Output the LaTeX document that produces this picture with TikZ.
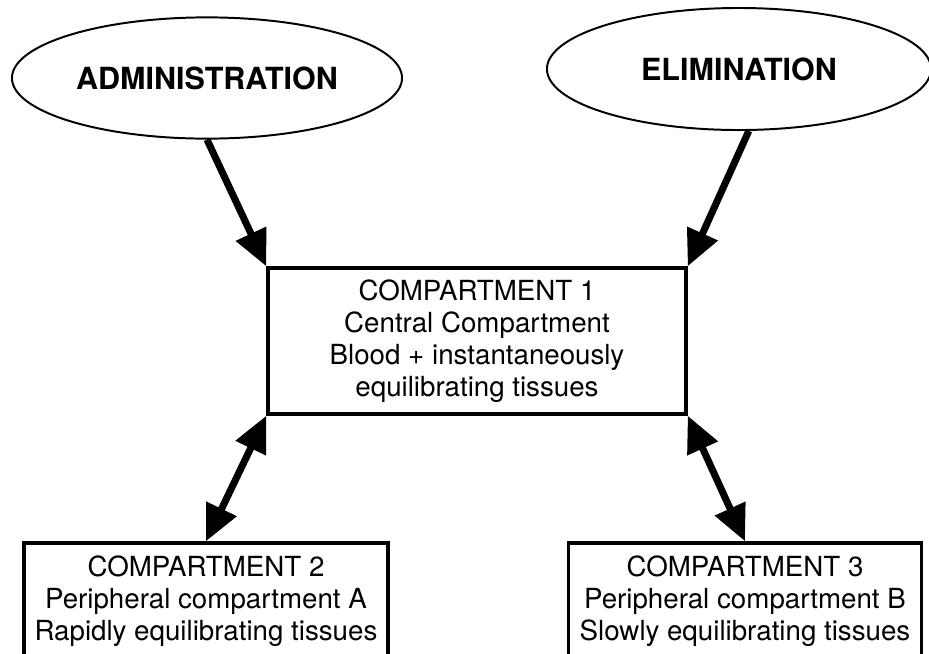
\documentclass[tikz,border=0pt]{standalone}
\usepackage{fontspec}
\setmainfont{TeX Gyre Heros}
\usetikzlibrary{arrows.meta,shapes.geometric}

\begin{document}
\begin{tikzpicture}[
  x=0.025cm, y=-0.025cm,
  oval/.style={draw, ellipse, line width=1.4pt, inner sep=0pt, font=\fontsize{21.7}{25}\selectfont\bfseries},
  comp/.style={draw, line width=2.4pt, align=center, inner sep=0pt, font=\fontsize{19.7}{22.8}\selectfont},
  arrow/.style={line width=5pt, -{Triangle[length=0.9cm, width=0.8cm]}},
  dblarrow/.style={line width=5pt, {Triangle[length=0.9cm, width=0.8cm]}-{Triangle[length=0.9cm, width=0.8cm]}}
]
\useasboundingbox (0,0) rectangle (929,653);
\clip (0,0) rectangle (929,653);

% inputs and outputs of the central compartment
\node[oval, minimum width=9.75cm, minimum height=3.03cm] (admin) at (207,78) {ADMINISTRATION};
\node[oval, minimum width=9.6cm, minimum height=3.05cm] (elim) at (739,69) {ELIMINATION};

% compartments (lower two run off the bottom edge)
\node[comp, minimum width=10.45cm, minimum height=3.65cm] (c1) at (477,341)
  {COMPARTMENT 1\\Central Compartment\\Blood + instantaneously\\equilibrating tissues};
\node[comp, minimum width=9.1cm, minimum height=2.9cm] (c2) at (206,601)
  {COMPARTMENT 2\\Peripheral compartment A\\Rapidly equilibrating tissues};
\node[comp, minimum width=8.83cm, minimum height=2.9cm] (c3) at (745,601)
  {COMPARTMENT 3\\Peripheral compartment B\\Slowly equilibrating tissues};

\draw[arrow] (admin.south) -- (c1.north west);
\draw[arrow] (elim.-81) -- (c1.north east);
\draw[dblarrow] (c1.south west) -- (c2.north);
\draw[dblarrow] (c1.south east) -- (c3.north);
\end{tikzpicture}
\end{document}
